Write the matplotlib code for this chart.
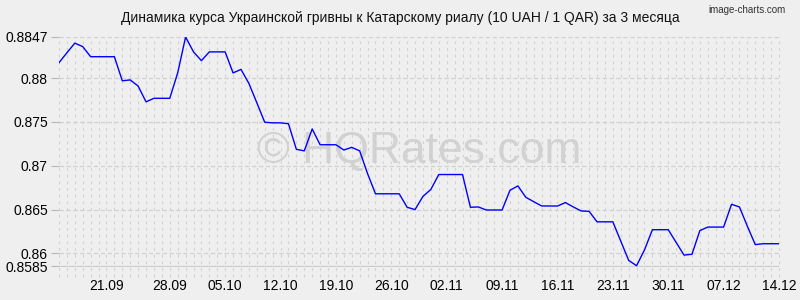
import matplotlib
matplotlib.use("Agg")
import matplotlib.pyplot as plt
import matplotlib.transforms as mtransforms

# Daily rate, index 0 .. 91 (last point = 14.12)
rates = [
    0.88177, 0.8829, 0.8840, 0.8836, 0.88245, 0.88245, 0.88245, 0.88245,
    0.8797, 0.8798, 0.8791, 0.8773, 0.8777, 0.8777, 0.8777, 0.8806,
    0.8847, 0.8830, 0.8820, 0.8830, 0.8830, 0.8830, 0.8806, 0.8810,
    0.8794, 0.8772, 0.87497, 0.8749, 0.8749, 0.8748, 0.87188, 0.8717,
    0.8742, 0.8724, 0.8724, 0.8724, 0.8718, 0.8721, 0.8717, 0.8691,
    0.8668, 0.8668, 0.8668, 0.8668, 0.86526, 0.8650, 0.8665, 0.8673,
    0.8690, 0.8690, 0.8690, 0.8690, 0.86526, 0.8653, 0.86495, 0.86495,
    0.86495, 0.8672, 0.8677, 0.8664, 0.8659, 0.86541, 0.86541, 0.8654,
    0.8658, 0.8653, 0.86484, 0.8648, 0.8636, 0.8636, 0.8636, 0.8614,
    0.8592, 0.85859, 0.8604, 0.8627, 0.8627, 0.8627, 0.86125, 0.8598,
    0.8599, 0.8626, 0.8630, 0.8630, 0.8630, 0.8656, 0.8653, 0.8631,
    0.8610, 0.8611, 0.8611, 0.8611,
]
x_tick_pos = [6, 14, 21, 28, 35, 42, 49, 56, 63, 70, 77, 84, 91]
x_tick_labels = ["21.09", "28.09", "05.10", "12.10", "19.10", "26.10", "02.11",
                 "09.11", "16.11", "23.11", "30.11", "07.12", "14.12"]
y_ticks = [0.8585, 0.86, 0.865, 0.87, 0.875, 0.88, 0.8847]
y_tick_labels = ["0.8585", "0.86", "0.865", "0.87", "0.875", "0.88", "0.8847"]
title = "Динамика курса Украинской гривны к Катарскому риалу (10 UAH / 1 QAR) за 3 месяца"

plt.rcParams['font.family'] = ['Liberation Sans', 'DejaVu Sans']
bg = '#efefef'
fig = plt.figure(figsize=(8, 3), dpi=100, facecolor=bg)
ax = fig.add_axes([59/800, 1-266.5/300, 720/800, 229.5/300], facecolor=bg)

n = len(rates)
xs = list(range(n))
ax.set_xlim(0, n - 1)
ax.set_ylim(y_ticks[0], y_ticks[-1])

# vertical dashed grid (one per day), extending below the axis
trans = mtransforms.blended_transform_factory(ax.transData, ax.transAxes)
ax.vlines(xs, -0.045, 1.0, transform=trans, colors='#d2d2d2', linewidth=0.8,
          linestyles=(0, (2.5, 3.5)), clip_on=False, zorder=1)
# horizontal grid
for v in y_ticks[1:]:
    ax.axhline(v, color='#d0d0d0', linewidth=0.9, linestyle=(0, (3.5, 2)), zorder=1)
ax.axhline(y_ticks[0], color='#cccccc', linewidth=0.9, zorder=1)

ax.plot(xs, rates, color='#0000ff', linewidth=1, zorder=3)

for s in ax.spines.values():
    s.set_visible(False)

ax.set_yticks(y_ticks)
ax.set_yticklabels(y_tick_labels)
ax.set_xticks(x_tick_pos)
ax.set_xticklabels(x_tick_labels)
ax.tick_params(axis='y', length=6, color='#b8b8b8', labelsize=10, pad=2)
ax.tick_params(axis='x', length=0, labelsize=10, pad=9)

# watermark
ax.text(0.5, 0.5, "© HQRates.com", transform=ax.transAxes, ha='center', va='center',
        fontsize=32, color='#cdcdcd', alpha=0.85, zorder=2)

fig.text(0.5, 1-18/300, title, ha='center', va='center', fontsize=10, color='#111111')
fig.text(0.982, 1-10/300, "image-charts.com", ha='right', va='center', fontsize=7,
         color='#333333', family=['Liberation Sans Narrow', 'Liberation Sans'])

fig.savefig("out.png", dpi=100, facecolor=bg)
